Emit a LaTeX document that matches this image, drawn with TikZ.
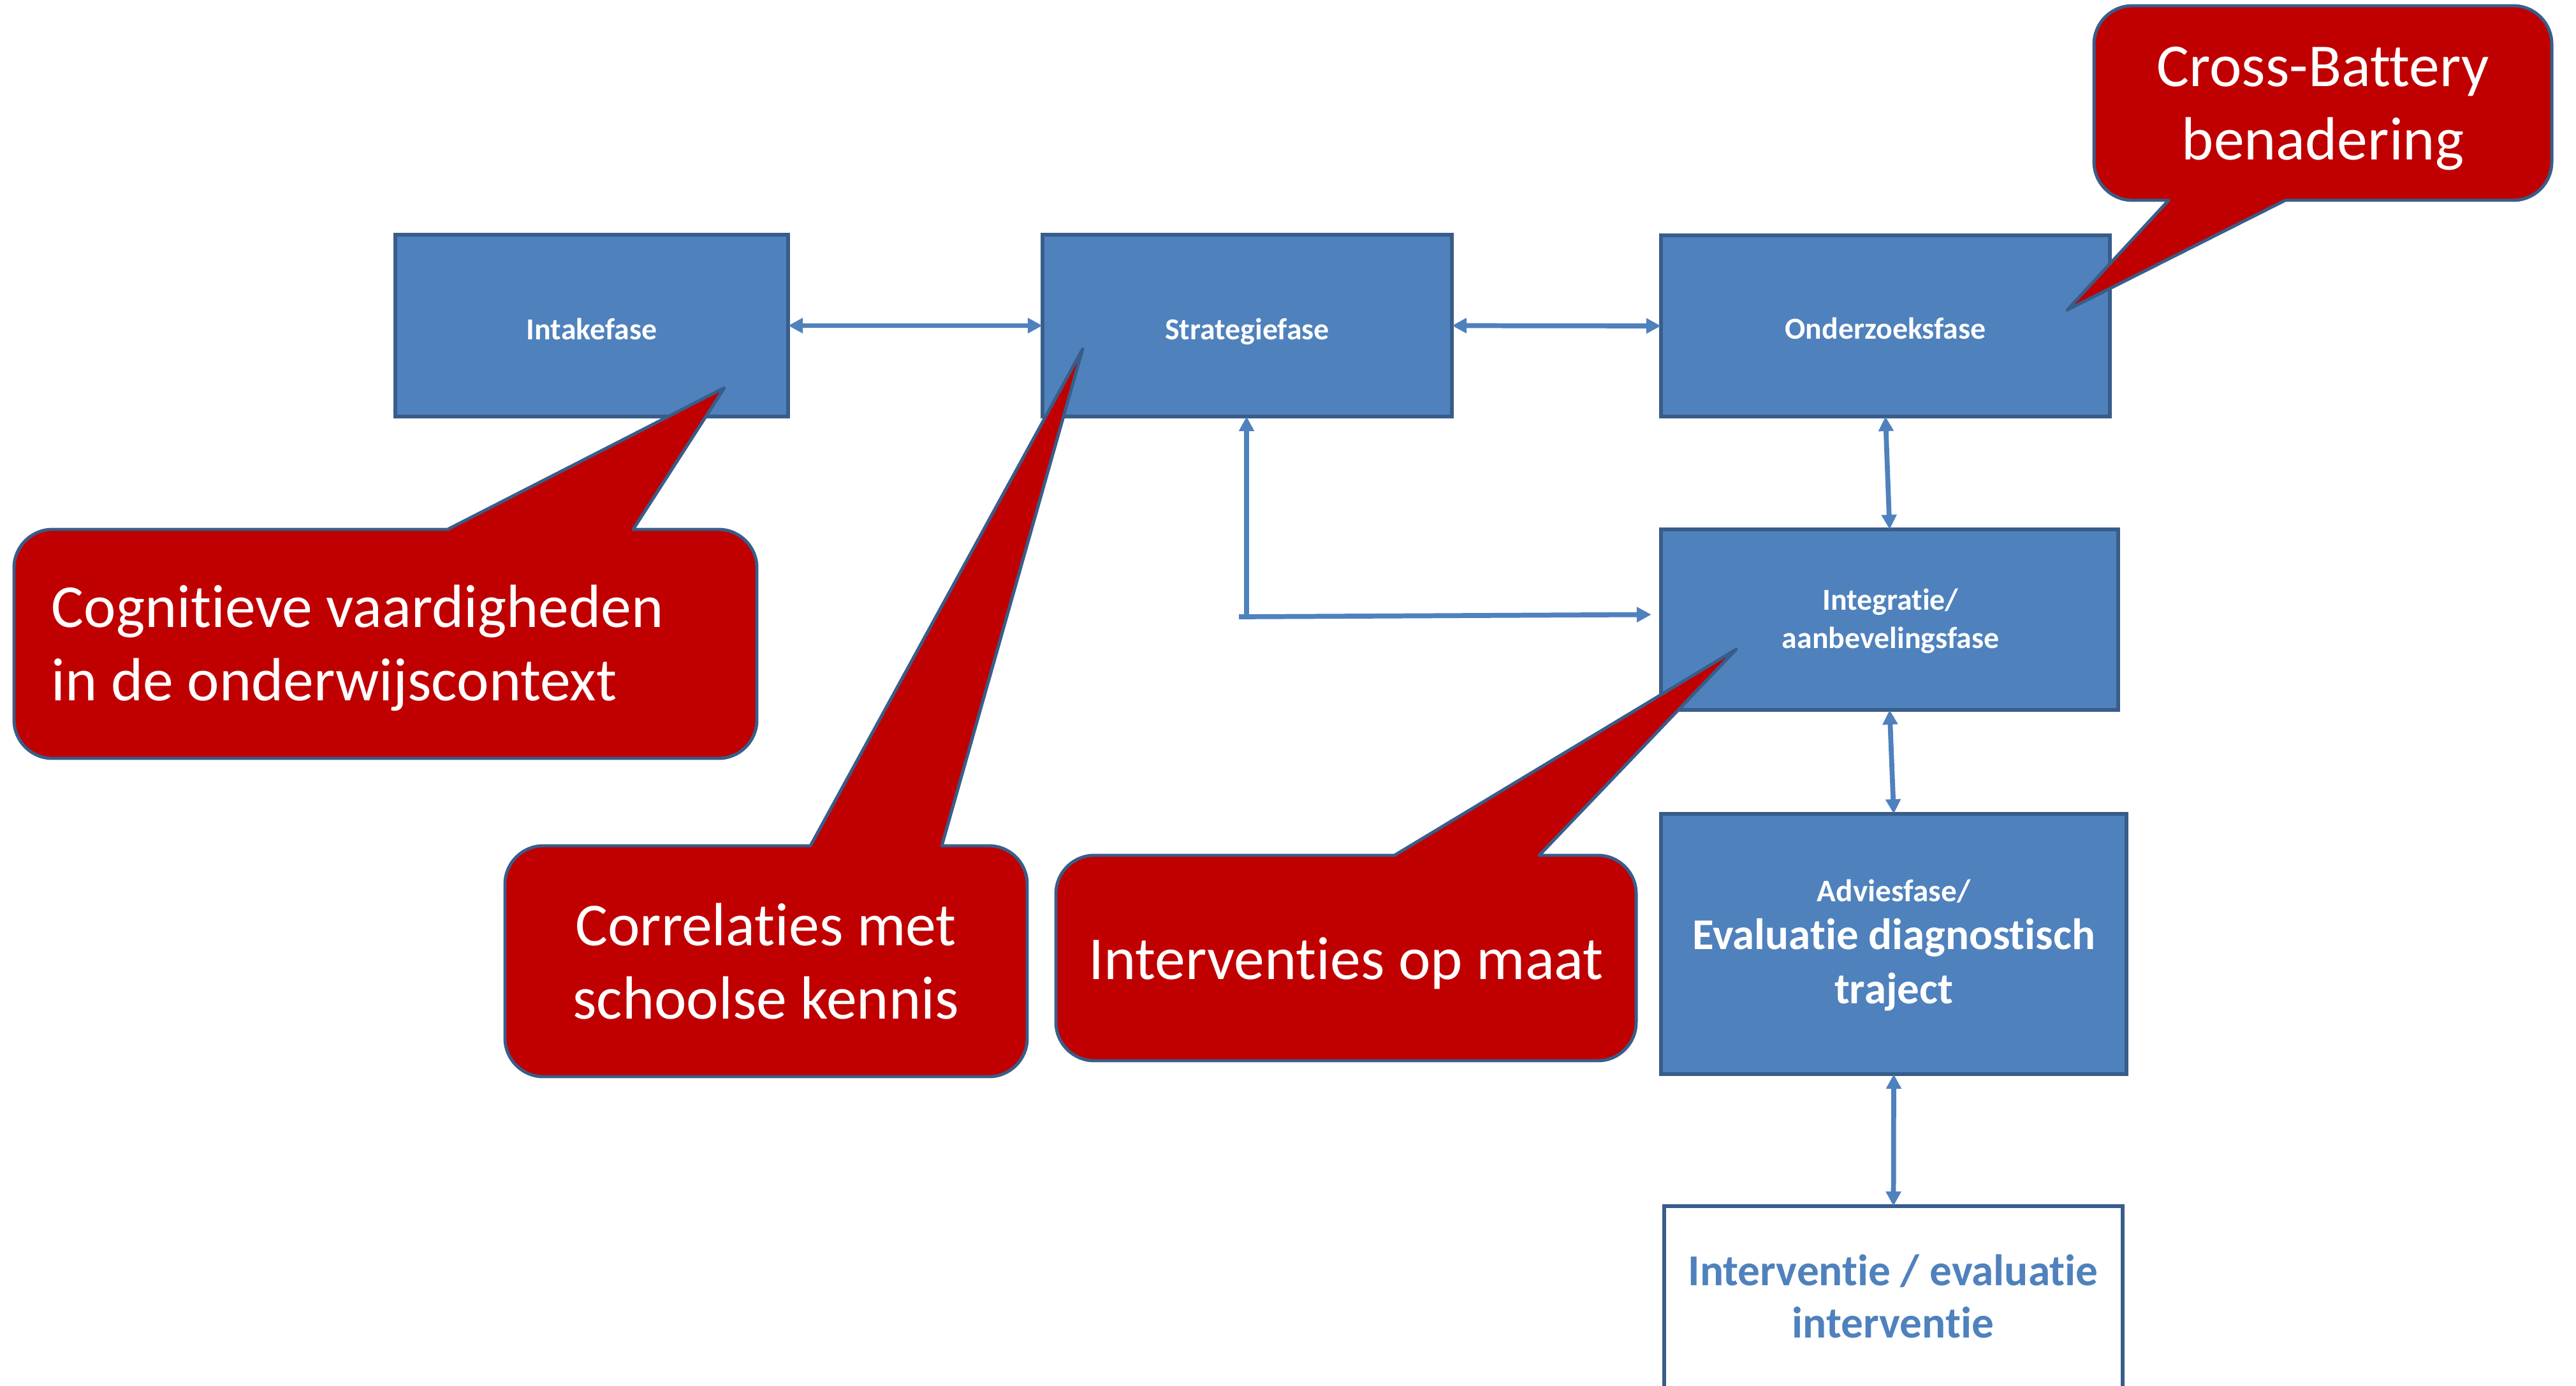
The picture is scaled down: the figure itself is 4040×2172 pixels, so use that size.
\documentclass[tikz,border=0pt]{standalone}
\usepackage{fontspec}
\setmainfont{Carlito}[Ligatures={NoCommon,NoRequired}, Contextuals=NoAlternate]
\usetikzlibrary{arrows.meta,calc}
\definecolor{boxblue}{HTML}{4F81BD}
\definecolor{edgeblue}{HTML}{385D8A}
\definecolor{bubblered}{HTML}{C00000}

% speech bubble, pointer on the top edge: x0 y0 x1 y1 baseleft baseright tipx tipy
\newcommand\bubbletop[8]{%
  \filldraw[bubble] (#6,#2) -- (#3-60,#2) .. controls (#3-27,#2) and (#3,#2+27) .. (#3,#2+60)
    -- (#3,#4-60) .. controls (#3,#4-27) and (#3-27,#4) .. (#3-60,#4)
    -- (#1+60,#4) .. controls (#1+27,#4) and (#1,#4-27) .. (#1,#4-60)
    -- (#1,#2+60) .. controls (#1,#2+27) and (#1+27,#2) .. (#1+60,#2)
    -- (#5,#2) -- (#7,#8) -- cycle;}
% speech bubble, pointer on the bottom edge
\newcommand\bubblebottom[8]{%
  \filldraw[bubble] (#1+60,#2) -- (#3-60,#2) .. controls (#3-27,#2) and (#3,#2+27) .. (#3,#2+60)
    -- (#3,#4-60) .. controls (#3,#4-27) and (#3-27,#4) .. (#3-60,#4)
    -- (#6,#4) -- (#7,#8) -- (#5,#4)
    -- (#1+60,#4) .. controls (#1+27,#4) and (#1,#4-27) .. (#1,#4-60)
    -- (#1,#2+60) .. controls (#1,#2+27) and (#1+27,#2) .. (#1+60,#2) -- cycle;}

\tikzset{
  phase/.style={draw=edgeblue, fill=boxblue, line width=1.6pt, inner sep=0pt, outer sep=0pt},
  openphase/.style={phase, fill=white},
  phasetext/.style={text=white, inner sep=0pt, align=center,
    font=\bfseries\fontsize{13.6}{16.8}\selectfont},
  bubble/.style={draw=edgeblue, fill=bubblered, line width=1.4pt, line join=round},
  bubbletext/.style={text=white, inner sep=0pt, font=\fontsize{27.2}{32.7}\selectfont},
  conn/.style={draw=boxblue, line width=2.2pt,
    {Triangle[length=6.5pt,width=6.5pt]}-{Triangle[length=6.5pt,width=6.5pt]}},
  oneway/.style={draw=boxblue, line width=2.2pt, -{Triangle[length=6.5pt,width=6.5pt]}}
}

\begin{document}
\begin{tikzpicture}[x=0.01cm, y=-0.01cm]
\clip (0,0) rectangle (4040,2172);
\fill[white] (0,0) rectangle (4040,2172);

% phase boxes
\node[phase, minimum width=6.16cm, minimum height=2.85cm] (intake) at (928,510.5) {};
\node[phase, minimum width=6.42cm, minimum height=2.85cm] (strat) at (1956,510.5) {};
\node[phase, minimum width=7.04cm, minimum height=2.84cm] (onder) at (2957,511) {};
\node[phase, minimum width=7.17cm, minimum height=2.83cm] (integ) at (2963.5,971.5) {};
\node[phase, minimum width=7.30cm, minimum height=4.08cm] (advies) at (2970,1480) {};
\node[openphase, minimum width=7.19cm, minimum height=3.10cm] (interv) at (2969.5,2046) {};

% box texts (base anchor = baseline of the last line)
\node[phasetext, anchor=base] (intaketxt) at (928,532) {Intakefase};
\node[phasetext, anchor=base] (strattxt) at (1956,532) {Strategiefase};
\node[phasetext, anchor=base] (ondertxt) at (2957,531) {Onderzoeksfase};
\node[phasetext, anchor=base] (integtxt) at (2965,1016) {Integratie/\\aanbevelingsfase};
\node[phasetext, anchor=base, font=\bfseries\fontsize{14}{16}\selectfont] (adv1) at (2970,1413) {Adviesfase/};
\node[phasetext, anchor=base, font=\bfseries\fontsize{19.6}{23.9}\selectfont] (adv2) at (2970,1573) {Evaluatie diagnostisch\\traject};
\node[phasetext, anchor=base, text=boxblue, font=\bfseries\fontsize{19.7}{23.3}\selectfont] (intervtxt) at (2969,2097) {Interventie / evaluatie\\interventie};

% connectors
\draw[conn] (intake.east) -- (strat.west);
\draw[conn] (strat.east) -- (onder.west);
\draw[conn] (onder.south) -- (integ.north);
\draw[conn] (integ.south) -- (advies.north);
\draw[conn] (advies.south) -- (interv.north);
\coordinate (elbow) at (1955,967);
\coordinate (elbowend) at (1943,967);
\draw[oneway] (elbow) -- (elbow |- strat.south);
\draw[oneway] (elbowend) -- ($(integ.west)+(-15,-8)$);

% speech bubbles
\bubbletop{22}{830}{1187}{1189}{702}{993}{1136}{608}
\bubblebottom{3284}{9}{4002}{314}{3401}{3584}{3242}{486}
\bubbletop{792}{1326}{1611}{1688}{1271}{1477}{1698}{547}
\bubbletop{1656}{1341}{2566}{1663}{2187}{2414}{2723}{1018}

\node[bubbletext, anchor=base west, align=left] (cogtxt) at (80,1098) {Cognitieve vaardigheden\\in de onderwijscontext};
\node[bubbletext, anchor=base, align=center] (crosstxt) at (3643,250) {Cross-Battery\\benadering};
\node[bubbletext, anchor=base, align=center] (corrtxt) at (1201,1597) {Correlaties met\\schoolse kennis};
\node[bubbletext, anchor=base, align=center] (maattxt) at (2111,1535) {Interventies op maat};
\end{tikzpicture}
\end{document}
